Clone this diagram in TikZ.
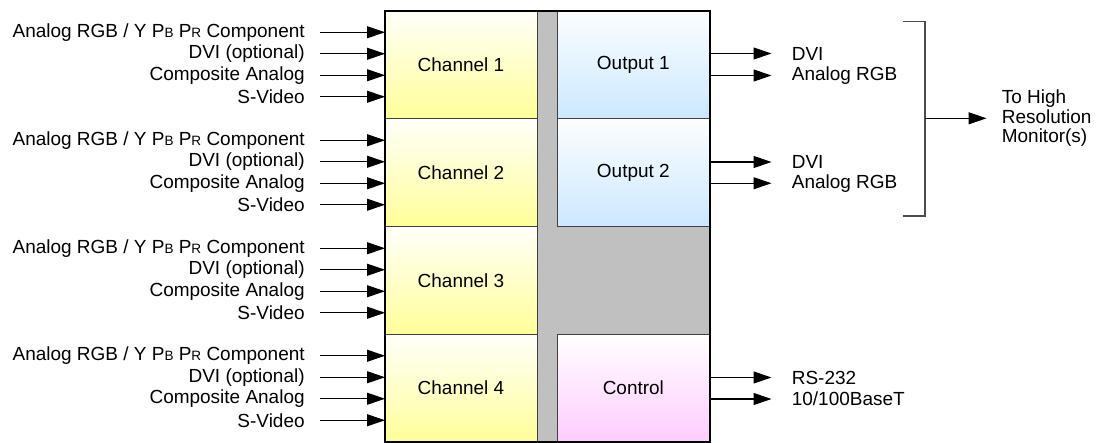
\documentclass[tikz,border=0pt]{standalone}
\usepackage{fontspec}
\setmainfont{Liberation Sans}
\usetikzlibrary{arrows.meta}
\definecolor{chanbot}{HTML}{FFFF99}
\definecolor{outbot}{HTML}{CCE8FF}
\definecolor{ctrlbot}{HTML}{FFCCFF}
\definecolor{busgray}{HTML}{C0C0C0}
\newcommand{\minicap}[1]{{\fontsize{7.7}{8}\selectfont #1}}
\begin{document}
\begin{tikzpicture}[font=\fontsize{10.8}{11.2}\selectfont,
  chan/.style={draw=black!75, line width=0.5pt, minimum width=3.04cm, minimum height=2.152cm, outer sep=0pt, top color=white!95!chanbot, bottom color=chanbot},
  outbox/.style={draw=black!75, line width=0.5pt, minimum width=3.026cm, minimum height=2.152cm, outer sep=0pt, top color=white!95!outbot, bottom color=outbot},
  lab/.style={anchor=east, inner sep=0pt},
  olab/.style={anchor=west, inner sep=0pt},
  arr/.style={line width=0.6pt, -{Triangle[length=0.36cm, width=0.24cm]}}]
\useasboundingbox (0,0) rectangle (21.96,-8.86);
% unit body, the gray is the bus between the cards
\fill[busgray] (7.7,-0.214) rectangle (14.2,-8.834);
\node [chan] (ch1) at (9.22,-1.29) {Channel 1};
\node [chan] (ch2) at (9.22,-3.45) {Channel 2};
\node [chan] (ch3) at (9.22,-5.61) {Channel 3};
\node [chan] (ch4) at (9.22,-7.76) {Channel 4};
\node [outbox] (out1) at (12.667,-1.29) {Output 1};
\node [outbox] (out2) at (12.667,-3.45) {Output 2};
\node [outbox, top color=white, bottom color=ctrlbot] (ctrl) at (12.667,-7.76) {Control};
\draw [line width=1.1pt] (7.7,-0.214) rectangle (14.2,-8.834);
% inputs
\node [lab] (a1) at (6.1,-0.645) {Analog RGB / Y P\minicap{B} P\minicap{R} Component};
\node [lab] (b1) at (6.1,-1.075) {DVI (optional)};
\node [lab] (c1) at (6.1,-1.505) {Composite Analog};
\node [lab] (d1) at (6.1,-1.935) {S-Video};
\node [lab] (a2) at (6.1,-2.805) {Analog RGB / Y P\minicap{B} P\minicap{R} Component};
\node [lab] (b2) at (6.1,-3.235) {DVI (optional)};
\node [lab] (c2) at (6.1,-3.665) {Composite Analog};
\node [lab] (d2) at (6.1,-4.095) {S-Video};
\node [lab] (a3) at (6.1,-4.965) {Analog RGB / Y P\minicap{B} P\minicap{R} Component};
\node [lab] (b3) at (6.1,-5.395) {DVI (optional)};
\node [lab] (c3) at (6.1,-5.825) {Composite Analog};
\node [lab] (d3) at (6.1,-6.255) {S-Video};
\node [lab] (a4) at (6.1,-7.115) {Analog RGB / Y P\minicap{B} P\minicap{R} Component};
\node [lab] (b4) at (6.1,-7.545) {DVI (optional)};
\node [lab] (c4) at (6.1,-7.975) {Composite Analog};
\node [lab] (d4) at (6.1,-8.405) {S-Video};
\draw [arr, shorten <=0.3cm] (a1.east) -- (a1 -| ch1.west);
\draw [arr, shorten <=0.3cm] (b1.east) -- (b1 -| ch1.west);
\draw [arr, shorten <=0.3cm] (c1.east) -- (c1 -| ch1.west);
\draw [arr, shorten <=0.3cm] (d1.east) -- (d1 -| ch1.west);
\draw [arr, shorten <=0.3cm] (a2.east) -- (a2 -| ch2.west);
\draw [arr, shorten <=0.3cm] (b2.east) -- (b2 -| ch2.west);
\draw [arr, shorten <=0.3cm] (c2.east) -- (c2 -| ch2.west);
\draw [arr, shorten <=0.3cm] (d2.east) -- (d2 -| ch2.west);
\draw [arr, shorten <=0.3cm] (a3.east) -- (a3 -| ch3.west);
\draw [arr, shorten <=0.3cm] (b3.east) -- (b3 -| ch3.west);
\draw [arr, shorten <=0.3cm] (c3.east) -- (c3 -| ch3.west);
\draw [arr, shorten <=0.3cm] (d3.east) -- (d3 -| ch3.west);
\draw [arr, shorten <=0.3cm] (a4.east) -- (a4 -| ch4.west);
\draw [arr, shorten <=0.3cm] (b4.east) -- (b4 -| ch4.west);
\draw [arr, shorten <=0.3cm] (c4.east) -- (c4 -| ch4.west);
\draw [arr, shorten <=0.3cm] (d4.east) -- (d4 -| ch4.west);
% outputs
\node [olab] (dvi1) at (15.83,-1.07) {DVI};
\node [olab] (rgb1) at (15.83,-1.51) {Analog RGB};
\node [olab] (dvi2) at (15.83,-3.24) {DVI};
\node [olab] (rgb2) at (15.83,-3.665) {Analog RGB};
\node [olab] (rs) at (15.83,-7.55) {RS-232};
\node [olab] (eth) at (15.83,-7.98) {10/100BaseT};
\draw [arr, shorten >=0.4cm] (dvi1 -| out1.east) -- (dvi1.west);
\draw [arr, shorten >=0.4cm] (rgb1 -| out1.east) -- (rgb1.west);
\draw [arr, shorten >=0.4cm] (dvi2 -| out2.east) -- (dvi2.west);
\draw [arr, shorten >=0.4cm] (rgb2 -| out2.east) -- (rgb2.west);
\draw [arr, shorten >=0.4cm] (rs -| ctrl.east) -- (rs.west);
\draw [arr, shorten >=0.4cm] (eth -| ctrl.east) -- (eth.west);
% bracket to the monitors
\node [olab, align=left] (mon) at (20.03,-2.366) {To High\\Resolution\\Monitor(s)};
\coordinate (brk) at (18.5,-2.366);
\draw [black!70, line width=0.6pt] (18.06,-0.434) -| (18.5,-4.32) -- (18.06,-4.32);
\draw [arr, shorten >=0.3cm] (brk) -- (mon.west);
\end{tikzpicture}
\end{document}
